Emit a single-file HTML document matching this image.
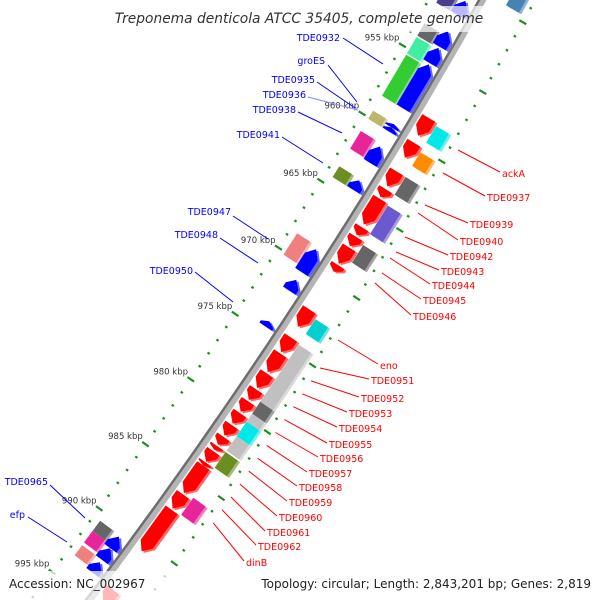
<!DOCTYPE html>
<html><head><meta charset="utf-8"><style>
html,body{margin:0;padding:0;background:#fff;width:600px;height:600px;overflow:hidden;}
svg{display:block;font-family:"DejaVu Sans","Liberation Sans",sans-serif;overflow:hidden;}
</style></head><body>
<svg id="map" width="600" height="600" viewBox="0 0 600 600" xmlns="http://www.w3.org/2000/svg">
<g id="ticks"></g>
<path id="backbone-outer" fill="none" stroke="#b4b4b4" stroke-width="7"/>
<path id="backbone-inner" fill="none" stroke="#6e6e6e" stroke-width="2.5"/>
<g id="genes"></g>
<g id="leaders" stroke-width="1"></g>
<g id="labels" font-size="9.5"></g>
<rect x="110" y="6" width="378" height="26" fill="#fff" fill-opacity="0.72"/>
<text x="299" y="23" text-anchor="middle" font-size="13.8" font-style="italic" fill="#333">Treponema denticola ATCC 35405, complete genome</text>
<rect x="0" y="571" width="600" height="29" fill="#fff" fill-opacity="0.72"/>
<text x="9" y="588" font-size="12" fill="#222">Accession: NC_002967</text>
<text x="591" y="588" text-anchor="end" font-size="12" fill="#222">Topology: circular; Length: 2,843,201 bp; Genes: 2,819</text>
</svg>
<script>
// ---- data ----
const revStart = [950.6,952.8,954.0,955.2,959.55,959.8,961.2,963.7,968.8,971.1,974.2,990.7,991.6,992.7];
const revEnd   = [951.6,953.9,955.1,958.4,959.8,960.1,962.4,964.4,970.5,971.9,974.6,991.6,992.5,993.5];
const fwdStart = [958.1,959.9,962.0,963.3,964.0,966.1,966.8,967.6,968.9,972.2,974.3,975.5,977.0,978.2,979.1,980.0,980.9,981.8,982.5,982.9,983.75,984.0,986.2,987.4,993.6];
const fwdEnd   = [959.4,961.0,963.1,963.9,965.9,966.7,967.5,968.8,969.4,973.5,975.4,976.9,978.1,979.0,979.9,980.8,981.7,982.4,982.8,983.7,984.0,986.1,987.3,990.6,994.6];
const rBoxStart = [948.6,958.3,960.2,962.0,964.1,967.0,972.5,974.4,976.0,977.7,978.7,979.6,980.2,981.3,982.5,986.0];
const rBoxEnd   = [949.6,959.5,961.2,963.3,966.2,968.3,973.6,976.0,977.7,978.7,979.6,980.2,981.3,982.4,983.7,987.3];
const rBoxColor = ["#4682b4","#00e8e8","#ff8c00","#666666","#6a5acd","#666666","#00d0d0","#c0c0c0","#c0c0c0","#c0c0c0","#666666","#c0c0c0","#00e8e8","#c0c0c0","#6b8e23","#e8249a"];
const lBoxStart = [950.6,953.1,954.1,955.4,959.5,961.0,963.6,968.6,990.6,991.4,992.5];
const lBoxEnd   = [951.6,954.0,955.3,958.4,960.1,962.3,964.4,970.2,991.4,992.3,993.3];
const lBoxColor = ["#483d8b","#666666","#40eea0","#33cc33","#bdb76b","#e8249a","#6b8e23","#f08080","#666666","#e8249a","#f08080"];
const tickMin = 945, tickMax = 1000, tickLabelKbp = [955,960,965,970,975,980,985,990,995];

// ---- geometry ----
const CX=-4174, CY=-2620, R0=5346, PHI0=33.64, K=0.1712;
function P(s,o){const a=(PHI0+(s-975)*K)*Math.PI/180;const r=R0+o;return [CX+r*Math.cos(a),CY+r*Math.sin(a)];}
const NS="http://www.w3.org/2000/svg";
function mk(tag){return document.createElementNS(NS,tag);}
function lighten(h,f){const n=parseInt(h.slice(1),16);let r=n>>16,g=(n>>8)&255,b=n&255;r=Math.round(r+(255-r)*f);g=Math.round(g+(255-g)*f);b=Math.round(b+(255-b)*f);return "rgb("+r+","+g+","+b+")";}
function arcPath(s0,s1,o){let d="";for(let s=s0;s<=s1+1e-9;s+=0.5){const p=P(s,o);d+=(d?"L":"M")+p[0].toFixed(1)+" "+p[1].toFixed(1);}return d;}
function ptsStr(a){return a.map(p=>p[0].toFixed(1)+","+p[1].toFixed(1)).join(" ");}

document.getElementById("backbone-outer").setAttribute("d",arcPath(944,999,-3));
document.getElementById("backbone-inner").setAttribute("d",arcPath(944,999,-6));

const tg=document.getElementById("ticks");
for(let k=tickMin;k<=tickMax;k++){
  const major=(k%5===0);
  const len=major?4:1.3;
  [-50,43].forEach(function(o){
    const a=P(k,o-len),b=P(k,o+len);
    const l=mk("line");
    
    
    l.setAttribute("x1",a[0]);l.setAttribute("y1",a[1]);l.setAttribute("x2",b[0]);l.setAttribute("y2",b[1]);
    l.setAttribute("stroke","#1f8f1f");l.setAttribute("stroke-width","2.2");
    tg.appendChild(l);
  });
}
tickLabelKbp.forEach(function(k){
  const p=P(k,-57);
  const t=mk("text");
  
  
  t.setAttribute("x",p[0]+3);t.setAttribute("y",p[1]-1);t.setAttribute("text-anchor","end");
  t.setAttribute("font-size","8.5");t.setAttribute("fill","#333");
  t.textContent=k+" kbp";tg.appendChild(t);
});

const gg=document.getElementById("genes");
function drawShape(pts,color,name){
  const sh=mk("polygon");
  
  
  sh.setAttribute("points",ptsStr(pts.map(p=>[p[0]+2.2,p[1]+1.6])));
  sh.setAttribute("fill",lighten(color,0.4));gg.appendChild(sh);
  const pg=mk("polygon");
  
  
  pg.setAttribute("points",ptsStr(pts));pg.setAttribute("fill",color);gg.appendChild(pg);
}
function box(s0,s1,o0,o1){return [P(s0,o0),P(s1,o0),P(s1,o1),P(s0,o1)];}
function arrow(s0,s1,o0,o1,dir){
  const L=s1-s0;const h=Math.min(0.55,L*0.6);const om=(o0+o1)/2;
  if(dir>0)return [P(s0,o0),P(s1-h,o0),P(s1,om),P(s1-h,o1),P(s0,o1)];
  return [P(s1,o0),P(s0+h,o0),P(s0,om),P(s0+h,o1),P(s1,o1)];
}
lBoxStart.forEach(function(s,i){drawShape(box(s,lBoxEnd[i],-42,-27),lBoxColor[i],"cog-box-reverse");});
rBoxStart.forEach(function(s,i){drawShape(box(s,rBoxEnd[i],20,35),rBoxColor[i],"cog-box-forward");});
revStart.forEach(function(s,i){drawShape(arrow(s,revEnd[i],-25,-10,-1),"#0000ff","gene-reverse");});
fwdStart.forEach(function(s,i){drawShape(arrow(s,fwdEnd[i],2,17,1),"#ff0000","gene-forward");});

const leftLabels=[["TDE0932",340,41,343,38,383,64],["groES",325,64,328,65,357,102],["TDE0935",315,83,317,82,355,108],["TDE0936",306,98,308,97,358,110],["TDE0938",296,113,298,112,342,133],["TDE0941",280,138,282,137,323,163],["TDE0947",231,215,233,216,268,239],["TDE0948",218,238,220,238,258,263],["TDE0950",193,274,195,272,233,302],["TDE0965",48,485,50,485,85,518],["efp",25,518,28,517,67,542]];
const rightNames=["ackA","TDE0937","TDE0939","TDE0940","TDE0942","TDE0943","TDE0944","TDE0945","TDE0946","eno","TDE0951","TDE0952","TDE0953","TDE0954","TDE0955","TDE0956","TDE0957","TDE0958","TDE0959","TDE0960","TDE0961","TDE0962","dinB"];
const rightX=[502,487,470,460,450,441,432,423,413,380,371,361,349,339,329,320,309,299,289,279,267,258,246];
const rightY=[177,201,228,245,260,275,289,304,320,369,384,402,417,432,448,462,477,491,506,521,536,550,566];
const rightStart=[[458,150],[443,173],[425,205],[418,213],[405,237],[396,252],[390,258],[382,273],[375,283],[338,340],[320,368]];
for(let i=1;i<=12;i++){rightStart.push([320-8.9*i,368+12.9*i]);}
const lg=document.getElementById("leaders"),lb=document.getElementById("labels");
leftLabels.forEach(function(d){
  const l=mk("line");
  
  
  l.setAttribute("x1",d[3]);l.setAttribute("y1",d[4]);l.setAttribute("x2",d[5]);l.setAttribute("y2",d[6]);
  l.setAttribute("stroke",d[0]==="TDE0936"?"#8888ff":"#0000ff");lg.appendChild(l);
  const t=mk("text");
  
  
  t.setAttribute("x",d[1]);t.setAttribute("y",d[2]);t.setAttribute("text-anchor","end");t.setAttribute("fill","#0000ff");
  t.textContent=d[0];lb.appendChild(t);
});
rightNames.forEach(function(n,i){
  const l=mk("line");
  
  
  l.setAttribute("x1",rightStart[i][0]);l.setAttribute("y1",rightStart[i][1]);l.setAttribute("x2",rightX[i]-2);l.setAttribute("y2",rightY[i]-5);
  l.setAttribute("stroke","#ff0000");lg.appendChild(l);
  const t=mk("text");
  
  
  t.setAttribute("x",rightX[i]);t.setAttribute("y",rightY[i]);t.setAttribute("fill","#ff0000");
  t.textContent=n;lb.appendChild(t);
});
</script>
</body></html>
